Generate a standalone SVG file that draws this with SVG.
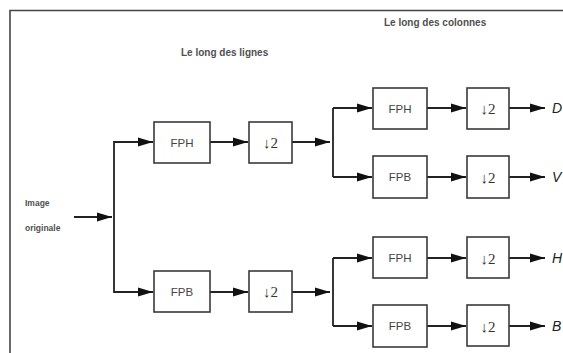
<svg xmlns="http://www.w3.org/2000/svg" width="563" height="353" viewBox="0 0 563 353">
<style>
.box{fill:#fff;stroke:#3a3a3a;stroke-width:1.6}
.ln{fill:none;stroke:#222;stroke-width:1.8}
.lbl{font-family:"Liberation Sans",Arial,sans-serif;font-size:11.5px;fill:#444;text-anchor:middle}
.ds{font-family:"Liberation Serif","DejaVu Serif",serif;font-size:15px;fill:#333;text-anchor:middle}
.ttl{font-family:"Liberation Sans",Arial,sans-serif;font-size:10px;font-weight:bold;fill:#505050}
.out{font-family:"Liberation Sans",Arial,sans-serif;font-size:14px;font-style:italic;fill:#222}
</style>
<defs>
<marker id="ah" markerWidth="16" markerHeight="10" refX="15" refY="5" orient="auto" markerUnits="userSpaceOnUse">
<path d="M0,0.5 L15,5 L0,9.5 Z" fill="#111"/>
</marker>
</defs>
<rect width="563" height="353" fill="#fff"/>
<path d="M10,353 V10.5 H563" fill="none" stroke="#444" stroke-width="1.6"/>
<text class="ttl" x="384" y="26">Le long des colonnes</text>
<text class="ttl" x="181" y="56">Le long des lignes</text>
<g id="input">
<text class="ttl" x="25" y="206" style="font-size:8.5px">Image</text>
<text class="ttl" x="25" y="231" style="font-size:8.5px">originale</text>
</g>
<g id="connectors">
<path class="ln" d="M74,217 H112" marker-end="url(#ah)"/>
<path class="ln" d="M152,142 H114 V292 H152"/>
<path class="ln" d="M114,142 H153" marker-end="url(#ah)"/>
<path class="ln" d="M114,292 H153" marker-end="url(#ah)"/>
<path class="ln" d="M210,142 H248" marker-end="url(#ah)"/>
<path class="ln" d="M210,292 H248" marker-end="url(#ah)"/>
<path class="ln" d="M292,142 H330" marker-end="url(#ah)"/>
<path class="ln" d="M292,292 H330" marker-end="url(#ah)"/>
<path class="ln" d="M333,108 V177"/>
<path class="ln" d="M333,258 V326"/>
<path class="ln" d="M333,108 H372" marker-end="url(#ah)"/>
<path class="ln" d="M333,177 H372" marker-end="url(#ah)"/>
<path class="ln" d="M333,258 H372" marker-end="url(#ah)"/>
<path class="ln" d="M333,326 H372" marker-end="url(#ah)"/>
<path class="ln" d="M427,108 H466" marker-end="url(#ah)"/>
<path class="ln" d="M427,177 H466" marker-end="url(#ah)"/>
<path class="ln" d="M427,258 H466" marker-end="url(#ah)"/>
<path class="ln" d="M427,326 H466" marker-end="url(#ah)"/>
<path class="ln" d="M509,108 H545" marker-end="url(#ah)"/>
<path class="ln" d="M509,177 H545" marker-end="url(#ah)"/>
<path class="ln" d="M509,258 H545" marker-end="url(#ah)"/>
<path class="ln" d="M509,326 H545" marker-end="url(#ah)"/>
</g>
<g id="fph1"><rect class="box" x="154" y="122" width="56" height="41"/><text class="lbl" x="182" y="146.5">FPH</text></g>
<g id="ds1"><rect class="box" x="249" y="122" width="43" height="41"/><text class="ds" x="270.5" y="148">↓2</text></g>
<g id="fpb1"><rect class="box" x="154" y="271" width="56" height="41"/><text class="lbl" x="182" y="295.5">FPB</text></g>
<g id="ds2"><rect class="box" x="249" y="271" width="43" height="41"/><text class="ds" x="270.5" y="297">↓2</text></g>
<g id="fph2"><rect class="box" x="373" y="88" width="54" height="41"/><text class="lbl" x="400" y="112.5">FPH</text></g>
<g id="ds3"><rect class="box" x="467" y="88" width="42" height="41"/><text class="ds" x="488" y="114">↓2</text></g>
<g id="fpb2"><rect class="box" x="373" y="156" width="54" height="42"/><text class="lbl" x="400" y="181">FPB</text></g>
<g id="ds4"><rect class="box" x="467" y="156" width="42" height="42"/><text class="ds" x="488" y="183">↓2</text></g>
<g id="fph3"><rect class="box" x="373" y="237" width="54" height="41"/><text class="lbl" x="400" y="262">FPH</text></g>
<g id="ds5"><rect class="box" x="467" y="237" width="42" height="41"/><text class="ds" x="488" y="263.5">↓2</text></g>
<g id="fpb3"><rect class="box" x="373" y="305" width="54" height="42"/><text class="lbl" x="400" y="330">FPB</text></g>
<g id="ds6"><rect class="box" x="467" y="305" width="42" height="41"/><text class="ds" x="488" y="331.5">↓2</text></g>
<g id="outD"><text class="out" x="552" y="113">D</text></g>
<g id="outV"><text class="out" x="552" y="182">V</text></g>
<g id="outH"><text class="out" x="552" y="263">H</text></g>
<g id="outB"><text class="out" x="552" y="331">B</text></g>
</svg>
